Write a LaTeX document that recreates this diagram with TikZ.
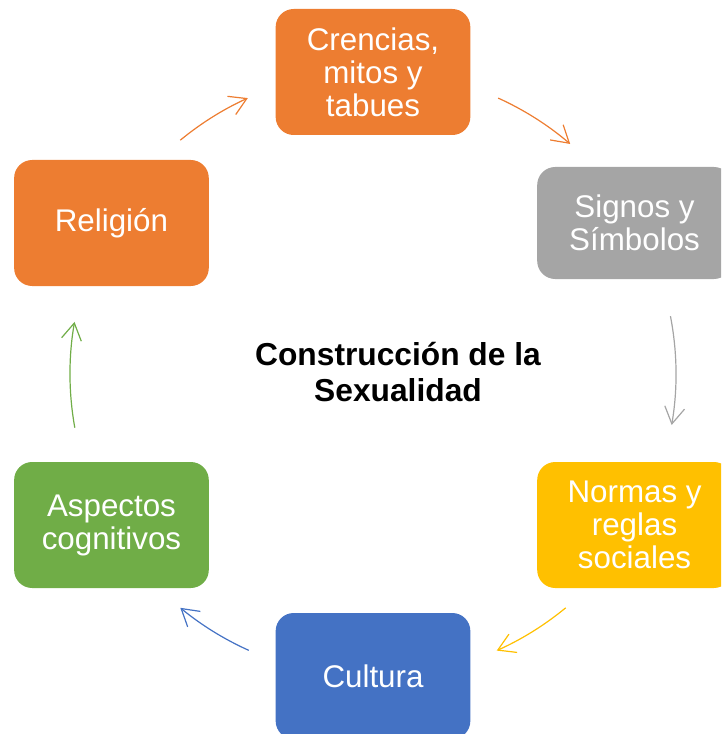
\documentclass[tikz,border=0pt]{standalone}
\usepackage{fontspec}
\setmainfont{Liberation Sans}
\usetikzlibrary{calc,arrows.meta}

\definecolor{naranja}{HTML}{ED7D31}
\definecolor{gris}{HTML}{A5A5A5}
\definecolor{oro}{HTML}{FFC000}
\definecolor{azul}{HTML}{4472C4}
\definecolor{verde}{HTML}{70AD47}

\tikzset{
	caja/.style={rounded corners=13.5pt, text=white, align=center, inner sep=0pt,
		minimum width=146pt, minimum height=94.5pt,
		font=\fontsize{23.5}{24.75}\selectfont},
	flecha/.style={line width=0.9pt, -{Straight Barb[length=12.5pt, width=15pt]}},
}

\begin{document}
\begin{tikzpicture}[x=0.75pt, y=0.75pt]

% parameters %{{{1

	\def\rad{302}
	\def\arcrad{227.25pt}

% frame %{{{1

	\useasboundingbox (0,0) rectangle (721,-734);
	\clip (0,0) rectangle (721,-734);

	\coordinate (O) at (373,-374);

% boxes %{{{1

	\node[caja, fill=naranja] (crencias) at ($(O)+(90:\rad)$) {Crencias,\\mitos y\\tabues};
	\node[caja, fill=gris, minimum height=84pt] (signos) at ($(O)+(30:\rad)$) {Signos y\\Símbolos};
	\node[caja, fill=oro] (normas) at ($(O)+(-30:\rad)$) {Normas y\\reglas\\sociales};
	\node[caja, fill=azul] (cultura) at ($(O)+(-90:\rad)$) {Cultura};
	\node[caja, fill=verde] (aspectos) at ($(O)+(210:\rad)$) {Aspectos\\cognitivos};
	\node[caja, fill=naranja] (religion) at ($(O)+(150:\rad)$) {Religión};

% title %{{{1

	\node[font=\bfseries\fontsize{23.8}{27}\selectfont, align=center] (titulo)
		at (398,-372) {Construcción de la\\Sexualidad};

% arrows %{{{1

	\foreach \a/\b/\c [count=\i] in {129.5/114.4/naranja, 65.6/49.4/naranja,
		11/-9.7/gris, -50.5/-65.9/oro, -114.2/-129.5/azul, 190.2/170.1/verde}
	{
		\coordinate (s\i) at ($(O)+(\a:303)$);
		\draw[flecha, \c] (s\i) arc[start angle=\a, end angle=\b, radius=\arcrad];
	}

% closing %{{{1

\end{tikzpicture}
\end{document}
